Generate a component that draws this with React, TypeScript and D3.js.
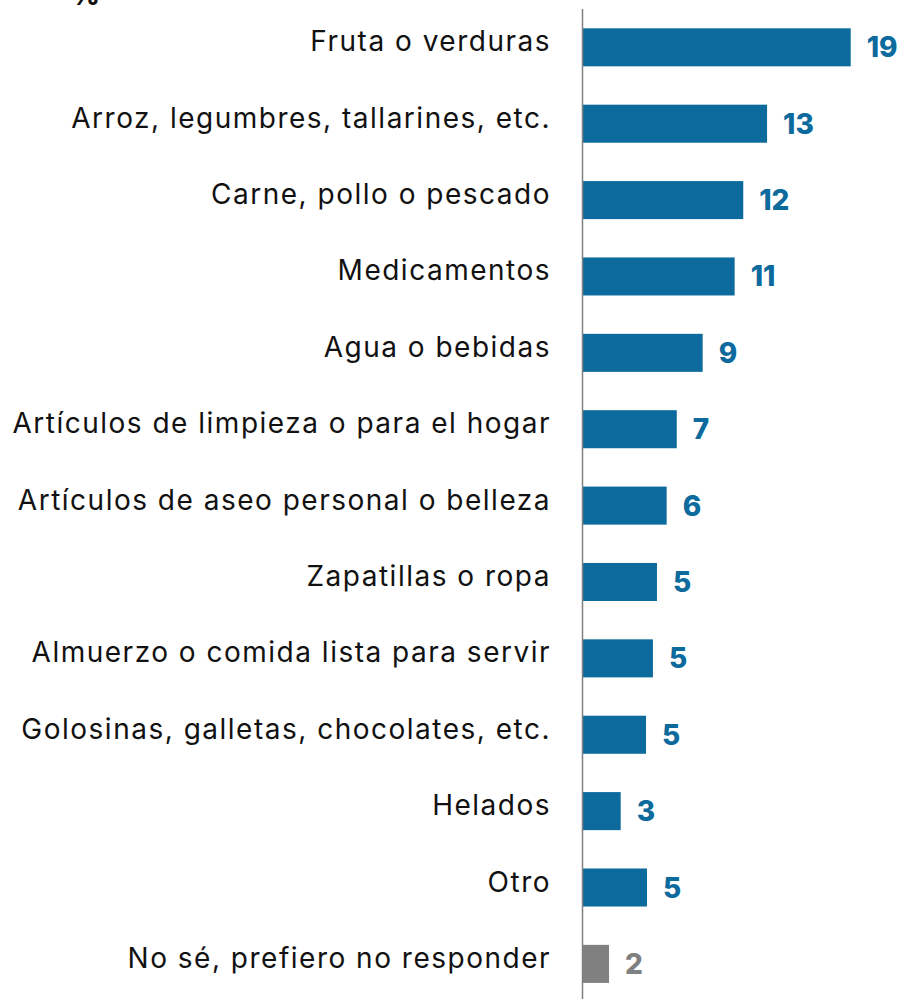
import React, { useEffect } from "react";
import * as d3 from "d3";

const categories = [
  "Fruta o verduras",
  "Arroz, legumbres, tallarines, etc.",
  "Carne, pollo o pescado",
  "Medicamentos",
  "Agua o bebidas",
  "Artículos de limpieza o para el hogar",
  "Artículos de aseo personal o belleza",
  "Zapatillas o ropa",
  "Almuerzo o comida lista para servir",
  "Golosinas, galletas, chocolates, etc.",
  "Helados",
  "Otro",
  "No sé, prefiero no responder",
];
const values = [19.33, 13.29, 11.57, 10.95, 8.64, 6.77, 6.04, 5.34, 5.05, 4.55, 2.72, 4.62, 1.88];
const valueLabels = ["19", "13", "12", "11", "9", "7", "6", "5", "5", "5", "3", "5", "2"];
const grayCategories = ["No sé, prefiero no responder"];
const unitLabel = "%";

const W = 902;
const H = 999;
const BLUE = "#0c6a9c";
const GRAY = "#808080";
const FONT = "Inter, 'Open Sans', sans-serif";

export default function App() {
  useEffect(() => {
    document.body.style.margin = "0";
  }, []);

  const axisX = 583;
  const x = d3.scaleLinear().domain([0, 20]).range([axisX, axisX + 277]);
  const y = d3
    .scaleBand<string>()
    .domain(categories)
    .range([28.3, 982.9])
    .paddingInner(0.502)
    .paddingOuter(0);
  const bw = y.bandwidth();

  return (
    <svg width={W} height={H} style={{ display: "block" }} fontFamily={FONT}>
      <rect width={W} height={H} fill="#fff" />
      <text x={71} y={5} fontSize={28} fontWeight={800} fill="#111">
        {unitLabel}
      </text>
      {categories.map((c, i) => {
        const y0 = y(c)!;
        const gray = grayCategories.includes(c);
        const col = gray ? GRAY : BLUE;
        return (
          <g key={c}>
            <text
              x={axisX - 32}
              y={y0 + bw / 2 + 4}
              textAnchor="end"
              fontSize={28}
              letterSpacing={1.5}
              fill="#111"
            >
              {c}
            </text>
            <rect x={axisX} y={y0} width={x(values[i]) - axisX} height={bw} fill={col} />
            <text
              x={x(values[i]) + 16}
              y={y0 + bw / 2 + 10}
              fontSize={28}
              fontWeight={800}
              fill={col}
            >
              {valueLabels[i]}
            </text>
          </g>
        );
      })}
      <line x1={axisX - 0.5} x2={axisX - 0.5} y1={9} y2={H} stroke={GRAY} strokeWidth={1.5} />
    </svg>
  );
}
